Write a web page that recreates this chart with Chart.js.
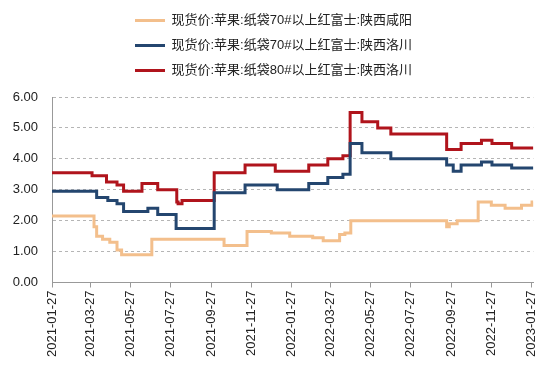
<!DOCTYPE html>
<html>
<head>
<meta charset="utf-8">
<script src="https://cdn.jsdelivr.net/npm/chart.js@4"></script>
<style>
  html, body { margin: 0; padding: 0; background: #fff; }
  #wrap { width: 550px; height: 371px; }
</style>
</head>
<body>
<div id="wrap"><canvas id="myChart"></canvas></div>
<script>
// x ticks every two months
var tickLabels = ['2021-01-27', '2021-03-27', '2021-05-27', '2021-07-27', '2021-09-27', '2021-11-27',
    '2022-01-27', '2022-03-27', '2022-05-27', '2022-07-27', '2022-09-27', '2022-11-27', '2023-01-27'];
var endDate = '2023-01-30';

// 现货价:苹果:纸袋70#以上红富士:陕西咸阳 (change dates + prices)
var xyDates = ['2021-01-27', '2021-03-29', '2021-04-01', '2021-04-05', '2021-04-14', '2021-04-25', '2021-05-06',
    '2021-05-13', '2021-05-18', '2021-06-28', '2021-10-16', '2021-11-20', '2021-12-27', '2022-01-24',
    '2022-02-28', '2022-03-16', '2022-04-10', '2022-04-18', '2022-04-27', '2022-09-20', '2022-09-24',
    '2022-10-06', '2022-11-07', '2022-11-27', '2022-12-18', '2023-01-12', '2023-01-28', endDate];
var xyValues = [2.15, 2.15, 1.8, 1.5, 1.4, 1.3, 1.05,
    0.9, 0.9, 1.4, 1.2, 1.65, 1.6, 1.5,
    1.45, 1.35, 1.55, 1.6, 2.0, 1.8, 1.9,
    2.0, 2.6, 2.5, 2.4, 2.5, 2.6, 2.6];

// 现货价:苹果:纸袋70#以上红富士:陕西洛川
var lc70Dates = ['2021-01-27', '2021-04-05', '2021-04-22', '2021-05-06', '2021-05-16', '2021-06-22', '2021-07-07',
    '2021-08-04', '2021-10-01', '2021-11-17', '2022-01-05', '2022-02-22', '2022-03-23', '2022-04-15',
    '2022-04-26', '2022-05-14', '2022-06-27', '2022-09-20', '2022-09-30', '2022-10-12', '2022-11-12',
    '2022-11-28', '2022-12-28', endDate];
var lc70Values = [2.95, 2.75, 2.65, 2.55, 2.3, 2.4, 2.2,
    1.75, 2.9, 3.15, 3.0, 3.2, 3.4, 3.5,
    4.5, 4.2, 4.0, 3.8, 3.6, 3.8, 3.9,
    3.8, 3.7, 3.7];

// 现货价:苹果:纸袋80#以上红富士:陕西洛川
var lc80Dates = ['2021-01-27', '2021-03-29', '2021-04-20', '2021-05-06', '2021-05-16', '2021-06-13', '2021-07-07',
    '2021-08-05', '2021-08-07', '2021-08-13', '2021-10-01', '2021-11-17', '2022-01-02', '2022-02-22',
    '2022-03-23', '2022-04-15', '2022-04-26', '2022-05-14', '2022-06-07', '2022-06-27', '2022-09-20',
    '2022-10-12', '2022-11-12', '2022-11-28', '2022-12-28', endDate];
var lc80Values = [3.55, 3.45, 3.25, 3.15, 2.95, 3.2, 3.0,
    2.6, 2.55, 2.65, 3.55, 3.8, 3.6, 3.8,
    4.0, 4.1, 5.5, 5.2, 5.0, 4.8, 4.3,
    4.5, 4.6, 4.5, 4.35, 4.35];

var start = Date.parse(tickLabels[0]);
function dayOf(s) { return Math.round((Date.parse(s) - start) / 86400000); }
function points(dates, values) {
    return dates.map(function (d, i) { return { x: dayOf(d), y: values[i] }; });
}
var tickDays = tickLabels.map(dayOf);

var font = 'Arial, "Liberation Sans", "Noto Sans CJK SC", sans-serif';

// extra room between the legend and the plot
var legendGap = {
    id: 'legendGap',
    beforeInit: function (chart) {
        var fit = chart.legend.fit;
        chart.legend.fit = function () {
            fit.bind(chart.legend)();
            this.height += 10;
        };
    }
};

var ctx = document.getElementById('myChart').getContext('2d');
var myChart = new Chart(ctx, {
    type: 'line',
    data: {
        datasets: [{
            label: '现货价:苹果:纸袋70#以上红富士:陕西咸阳',
            data: points(xyDates, xyValues),
            borderColor: '#f3bf8c',
            backgroundColor: '#f3bf8c',
            borderWidth: 3,
        }, {
            label: '现货价:苹果:纸袋70#以上红富士:陕西洛川',
            data: points(lc70Dates, lc70Values),
            borderColor: '#24466f',
            backgroundColor: '#24466f',
            borderWidth: 3,
        }, {
            label: '现货价:苹果:纸袋80#以上红富士:陕西洛川',
            data: points(lc80Dates, lc80Values),
            borderColor: '#b0141c',
            backgroundColor: '#b0141c',
            borderWidth: 3,
        }]
    },
    plugins: [legendGap],
    options: {
        responsive: true,
        maintainAspectRatio: false,
        animation: false,
        layout: { padding: { top: 2, right: 8, bottom: 11, left: 5 } },
        elements: {
            line: { stepped: true, tension: 0 },
            point: { radius: 0 }
        },
        plugins: {
            tooltip: { enabled: false },
            legend: {
                position: 'top',
                labels: {
                    usePointStyle: true,
                    pointStyle: 'line',
                    pointStyleWidth: 30,
                    padding: 12,
                    color: '#222',
                    font: { size: 13, family: font }
                }
            }
        },
        scales: {
            x: {
                type: 'linear',
                min: 0,
                max: dayOf(endDate),
                afterBuildTicks: function (axis) {
                    axis.ticks = tickDays.map(function (v) { return { value: v }; });
                },
                ticks: {
                    minRotation: 90,
                    maxRotation: 90,
                    autoSkip: false,
                    color: '#222',
                    font: { size: 13, family: font },
                    callback: function (v) {
                        var i = tickDays.indexOf(v);
                        return i >= 0 ? tickLabels[i] : '';
                    }
                },
                grid: { drawOnChartArea: false, drawTicks: true, tickLength: 5, color: '#999' },
                border: { color: '#999' }
            },
            y: {
                min: 0,
                max: 6,
                afterFit: function (axis) { axis.width = 47; },
                ticks: {
                    stepSize: 1,
                    color: '#222',
                    padding: 14,
                    font: { size: 13, family: font },
                    callback: function (v) { return v.toFixed(2); }
                },
                grid: { color: '#b5b5b5', drawTicks: false },
                border: { color: '#999', dash: [3, 3] }
            }
        }
    }
});
</script>
</body>
</html>
